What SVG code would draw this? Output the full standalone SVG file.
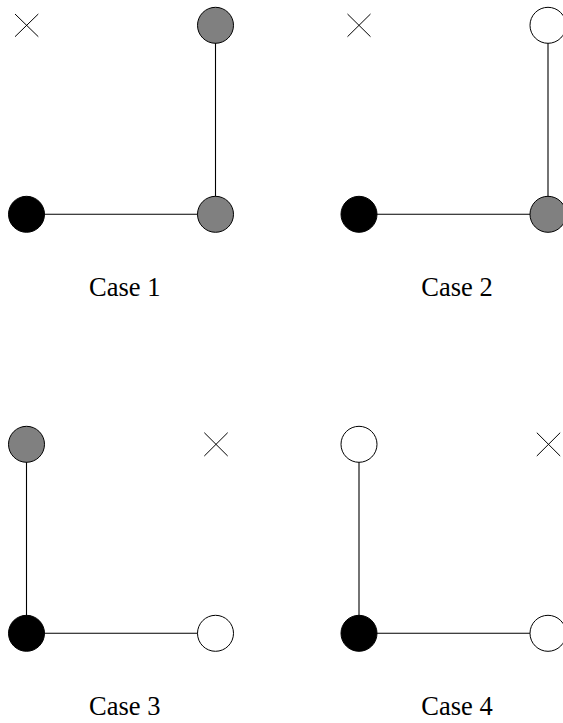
<svg xmlns="http://www.w3.org/2000/svg" width="563" height="723" viewBox="0 0 563 723">
<style>
.n{stroke:#000;stroke-width:1}
.b{fill:#000}
.g{fill:#808080}
.w{fill:#fff}
.e{stroke:#000;stroke-width:1.1;fill:none}
.x{stroke:#000;stroke-width:1;fill:none}
.t{font-family:"Liberation Serif","DejaVu Serif",serif;font-size:26.5px;fill:#000;text-anchor:middle}
</style>
<rect width="563" height="723" fill="#fff"/>
<g id="connectors">
<line class="e" x1="26.5" y1="214.3" x2="215.5" y2="214.3"/>
<line class="e" x1="215.5" y1="25.3" x2="215.5" y2="214.3"/>
<line class="e" x1="359" y1="214.3" x2="548" y2="214.3"/>
<line class="e" x1="548" y1="25.3" x2="548" y2="214.3"/>
<line class="e" x1="26.5" y1="444.3" x2="26.5" y2="633.3"/>
<line class="e" x1="26.5" y1="633.3" x2="215.5" y2="633.3"/>
<line class="e" x1="359" y1="444.3" x2="359" y2="633.3"/>
<line class="e" x1="359" y1="633.3" x2="548" y2="633.3"/>
</g>
<g id="case1">
<g id="c1-x"><path class="x" d="M15,14 L38.3,36.7 M38.3,14 L15,36.7"/></g>
<g id="c1-tr"><circle class="n g" cx="215.5" cy="25.3" r="18"/></g>
<g id="c1-bl"><circle class="n b" cx="26.5" cy="214.3" r="18"/></g>
<g id="c1-br"><circle class="n g" cx="215.5" cy="214.3" r="18"/></g>
<text id="c1-label" class="t" x="124.7" y="295.5">Case 1</text>
</g>
<g id="case2">
<g id="c2-x"><path class="x" d="M347.5,14 L370.5,36.7 M370.5,14 L347.5,36.7"/></g>
<g id="c2-tr"><circle class="n w" cx="548" cy="25.3" r="18"/></g>
<g id="c2-bl"><circle class="n b" cx="359" cy="214.3" r="18"/></g>
<g id="c2-br"><circle class="n g" cx="548" cy="214.3" r="18"/></g>
<text id="c2-label" class="t" x="457" y="295.5">Case 2</text>
</g>
<g id="case3">
<g id="c3-x"><path class="x" d="M204.3,432.7 L227.7,456 M227.7,432.7 L204.3,456"/></g>
<g id="c3-tl"><circle class="n g" cx="26.5" cy="444.3" r="18"/></g>
<g id="c3-bl"><circle class="n b" cx="26.5" cy="633.3" r="18"/></g>
<g id="c3-br"><circle class="n w" cx="215.5" cy="633.3" r="18"/></g>
<text id="c3-label" class="t" x="124.7" y="714.5">Case 3</text>
</g>
<g id="case4">
<g id="c4-x"><path class="x" d="M536.8,432.7 L560.2,456 M560.2,432.7 L536.8,456"/></g>
<g id="c4-tl"><circle class="n w" cx="359" cy="444.3" r="18"/></g>
<g id="c4-bl"><circle class="n b" cx="359" cy="633.3" r="18"/></g>
<g id="c4-br"><circle class="n w" cx="548" cy="633.3" r="18"/></g>
<text id="c4-label" class="t" x="457" y="714.5">Case 4</text>
</g>
</svg>
